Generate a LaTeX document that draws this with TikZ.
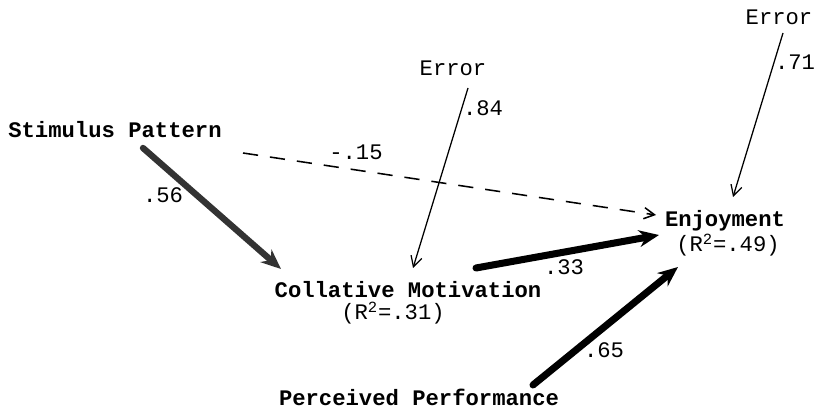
\documentclass[tikz,border=0pt]{standalone}
\usepackage{fontspec}
\setmainfont{Liberation Mono}
\usetikzlibrary{arrows.meta}

\tikzset{
  var/.style={font=\fontsize{15.8}{18}\selectfont\bfseries, inner sep=0pt},
  coef/.style={font=\fontsize{15.8}{18}\selectfont, inner sep=0pt},
  thickpath/.style={line width=4.5pt, line cap=round, -{Stealth[length=0.5cm,width=0.42cm]}},
  errpath/.style={line width=0.9pt, -{Straight Barb[length=0.26cm,width=0.28cm]}},
}

\begin{document}
\begin{tikzpicture}[x=0.025cm, y=-0.025cm]
    % frame in pixels of the original (817 x 412), y pointing down
    \useasboundingbox (0,0) rectangle (817,412);

    % Variables
    \node[var] (stim)  at (115,130) {Stimulus Pattern};
    \node[var] (colmot) at (408,290) {Collative Motivation};
    \node[coef] (colmotr) at (393,313) {(R\textsuperscript{2}=.31)};
    \node[var] (enjoy) at (725,221) {Enjoyment};
    \node[coef] (enjoyr) at (728,245) {(R\textsuperscript{2}=.49)};
    \node[var] (perf)  at (419,397) {Perceived Performance};

    % Error terms
    \node[coef] (err1) at (453,68) {Error};
    \node[coef] (err2) at (779,17) {Error};

    % Ends of the paths
    \coordinate (stim-out)   at (143,148);
    \coordinate (stim-dash)  at (243,153);
    \coordinate (colmot-in)  at (281,269);
    \coordinate (colmot-err) at (413,268);
    \coordinate (colmot-out) at (476,268);
    \coordinate (err1-out)   at (468,88);
    \coordinate (err2-out)   at (783,33);
    \coordinate (enjoy-err)  at (733,197);
    \coordinate (enjoy-dash) at (656,215);
    \coordinate (enjoy-cm)   at (659,235);
    \coordinate (enjoy-perf) at (678,267);
    \coordinate (perf-out)   at (533,385);

    % Paths
    \draw[thickpath, black!80] (stim-out) -- (colmot-in);
    \draw[thickpath, line width=5pt] (colmot-out) -- (enjoy-cm);
    \draw[thickpath, line width=5pt] (perf-out) -- (enjoy-perf);
    \draw[errpath, line width=1.1pt, dash pattern=on 0.38cm off 0.3cm] (stim-dash) -- (enjoy-dash);
    \draw[errpath] (err1-out) -- (colmot-err);
    \draw[errpath] (err2-out) -- (enjoy-err);

    % Coefficients
    \node[coef] (c56) at (163,195) {.56};
    \node[coef] (c15) at (356,152) {-.15};
    \node[coef] (c33) at (564,267) {.33};
    \node[coef] (c65) at (604,350) {.65};
    \node[coef] (c84) at (483,108) {.84};
    \node[coef] (c71) at (795,62) {.71};
\end{tikzpicture}
\end{document}
